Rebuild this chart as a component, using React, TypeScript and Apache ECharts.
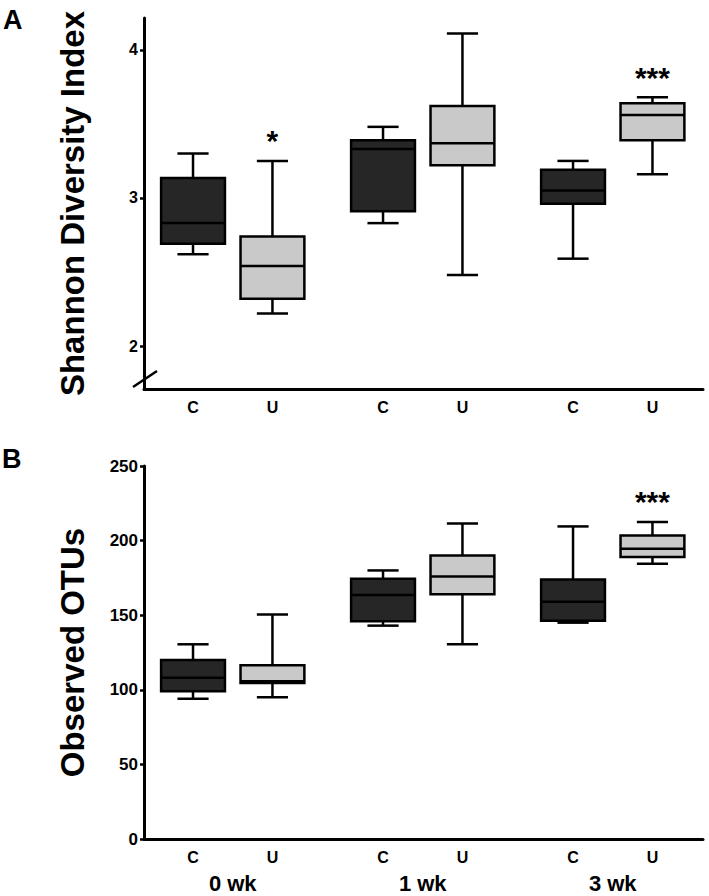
import React, { useEffect, useRef } from "react";
import * as echarts from "echarts";

// ---- data ----
const groups = ["0 wk", "1 wk", "3 wk"];
const treatments = ["C", "U"];
// [min, Q1, median, Q3, max] per week
const shannonC = [
  [2.62, 2.69, 2.83, 3.135, 3.3],
  [2.83, 2.91, 3.33, 3.39, 3.48],
  [2.59, 2.96, 3.05, 3.19, 3.25],
];
const shannonU = [
  [2.22, 2.32, 2.54, 2.74, 3.25],
  [2.48, 3.22, 3.37, 3.62, 4.11],
  [3.16, 3.39, 3.56, 3.64, 3.68],
];
const otusC = [
  [94, 99, 108, 120, 130.5],
  [143, 146, 163.5, 174.5, 180],
  [145, 146.3, 159, 174, 209.5],
];
const otusU = [
  [95, 104.5, 105.8, 116.5, 150.5],
  [130.5, 164, 176, 190, 211.5],
  [184.5, 189, 194.5, 203.5, 212.5],
];
const shannonSig = ["*", "", "***"];
const otusSig = ["", "", "***"];
const shannonTicks = [2, 3, 4];
const otusTicks = [0, 50, 100, 150, 200, 250];

// ---- layout constants ----
const FONT = '"Liberation Sans", Arial, Helvetica, sans-serif';
const X_MAX = 2.942;
const GROUP0 = 0.467;
const OFFSET = 0.209;
const BOX_HALF = 0.168;
const CAP_HALF = 0.082;
const A_MIN = 1.71;
const A_MAX = 4.215;
const DARK = "#262626";
const LIGHT = "#c9c9c9";

function buildData(cArr: number[][], uArr: number[][]) {
  const out: number[][] = [];
  groups.forEach((_, g) => {
    [cArr[g], uArr[g]].forEach((v, t) => {
      const x = GROUP0 + g + (t === 0 ? -OFFSET : OFFSET);
      out.push([x, v[0], v[1], v[2], v[3], v[4], g, t]);
    });
  });
  return out;
}

function makeRender(yMin: number, sig: string[], showGroups: boolean) {
  return (params: any, api: any) => {
    const x = api.value(0);
    const mn = api.value(1);
    const q1 = api.value(2);
    const med = api.value(3);
    const q3 = api.value(4);
    const mx = api.value(5);
    const g = api.value(6);
    const t = api.value(7);
    const pMin = api.coord([x, mn]);
    const pQ1 = api.coord([x, q1]);
    const pMed = api.coord([x, med]);
    const pQ3 = api.coord([x, q3]);
    const pMax = api.coord([x, mx]);
    const pBase = api.coord([x, yMin]);
    const hw = api.size([BOX_HALF, 0])[0];
    const cw = api.size([CAP_HALF, 0])[0];
    const cx = pMed[0];
    const lineStyle = { stroke: "#000", lineWidth: 2.5 };
    const children: any[] = [
      { type: "line", shape: { x1: cx, y1: pMax[1], x2: cx, y2: pQ3[1] }, style: lineStyle },
      { type: "line", shape: { x1: cx, y1: pQ1[1], x2: cx, y2: pMin[1] }, style: lineStyle },
      { type: "line", shape: { x1: cx - cw, y1: pMax[1], x2: cx + cw, y2: pMax[1] }, style: lineStyle },
      { type: "line", shape: { x1: cx - cw, y1: pMin[1], x2: cx + cw, y2: pMin[1] }, style: lineStyle },
      {
        type: "rect",
        shape: { x: cx - hw, y: pQ3[1], width: hw * 2, height: pQ1[1] - pQ3[1] },
        style: { fill: t === 0 ? DARK : LIGHT, stroke: "#000", lineWidth: 2.5 },
      },
      { type: "line", shape: { x1: cx - hw, y1: pMed[1], x2: cx + hw, y2: pMed[1] }, style: lineStyle },
      {
        type: "text",
        x: cx,
        y: pBase[1] + 18,
        style: {
          text: treatments[t],
          fontSize: 16,
          fontWeight: "bold",
          fontFamily: FONT,
          fill: "#000",
          align: "center",
          verticalAlign: "middle",
        },
      },
    ];
    if (t === 1 && sig[g]) {
      children.push({
        type: "text",
        x: cx,
        y: pMax[1] - 20,
        style: {
          text: sig[g],
          fontSize: 30,
          fontWeight: "bold",
          fontFamily: FONT,
          fill: "#000",
          align: "center",
          verticalAlign: "middle",
        },
      });
    }
    if (showGroups && t === 0) {
      const pg = api.coord([GROUP0 + g, yMin]);
      children.push({
        type: "text",
        x: pg[0],
        y: pg[1] + 44,
        style: {
          text: groups[g],
          fontSize: 22,
          fontWeight: "bold",
          fontFamily: FONT,
          fill: "#000",
          align: "center",
          verticalAlign: "middle",
        },
      });
    }
    return { type: "group", children };
  };
}

function yAxisCfg(gridIndex: number, min: number, max: number, ticks: number[], name: string, labelSize: number) {
  return {
    type: "value",
    gridIndex,
    min,
    max,
    name,
    nameLocation: "middle",
    nameGap: 55,
    nameTextStyle: { fontSize: 33, fontWeight: "bold", fontFamily: FONT, color: "#000" },
    axisLine: { show: true, onZero: false, lineStyle: { color: "#000", width: 3 } },
    axisTick: { show: true, length: 4, customValues: ticks, lineStyle: { color: "#000", width: 2.5 } },
    axisLabel: {
      show: true,
      customValues: ticks,
      margin: 6,
      fontSize: labelSize,
      fontWeight: "bold",
      fontFamily: FONT,
      color: "#000",
    },
    splitLine: { show: false },
  };
}

function xAxisCfg(gridIndex: number) {
  return {
    type: "value",
    gridIndex,
    min: 0,
    max: X_MAX,
    axisLine: { show: true, onZero: false, lineStyle: { color: "#000", width: 3 } },
    axisTick: { show: false },
    axisLabel: { show: false },
    splitLine: { show: false },
  };
}

export default function App() {
  const ref = useRef<HTMLDivElement>(null);
  useEffect(() => {
    if (!ref.current) return;
    const chart = echarts.init(ref.current, null, { renderer: "svg" });
    const option: any = {
      animation: false,
      backgroundColor: "#fff",
      grid: [
        { left: 144, top: 18, width: 559, height: 371 },
        { left: 144, top: 466, width: 559, height: 373 },
      ],
      xAxis: [xAxisCfg(0), xAxisCfg(1)],
      yAxis: [
        yAxisCfg(0, A_MIN, A_MAX, shannonTicks, "Shannon Diversity Index", 16),
        yAxisCfg(1, 0, 250, otusTicks, "Observed OTUs", 17),
      ],
      series: [
        {
          type: "custom",
          xAxisIndex: 0,
          yAxisIndex: 0,
          clip: false,
          renderItem: makeRender(A_MIN, shannonSig, false),
          encode: { x: 0, y: [1, 2, 3, 4, 5] },
          data: buildData(shannonC, shannonU),
        },
        {
          type: "custom",
          xAxisIndex: 1,
          yAxisIndex: 1,
          clip: false,
          renderItem: makeRender(0, otusSig, true),
          encode: { x: 0, y: [1, 2, 3, 4, 5] },
          data: buildData(otusC, otusU),
        },
      ],
      graphic: [
        {
          type: "text",
          left: 3,
          top: 6,
          style: { text: "A", fontSize: 27, fontWeight: "bold", fontFamily: FONT, fill: "#000" },
        },
        {
          type: "text",
          left: 2,
          top: 445,
          style: { text: "B", fontSize: 27, fontWeight: "bold", fontFamily: FONT, fill: "#000" },
        },
        {
          type: "line",
          shape: { x1: 133, y1: 387, x2: 157, y2: 371 },
          style: { stroke: "#000", lineWidth: 2.5 },
        },
      ],
    };
    chart.setOption(option);
    return () => chart.dispose();
  }, []);
  return (
    <div
      ref={ref}
      style={{ position: "absolute", left: 0, top: 0, width: 709, height: 896, background: "#fff" }}
    />
  );
}
